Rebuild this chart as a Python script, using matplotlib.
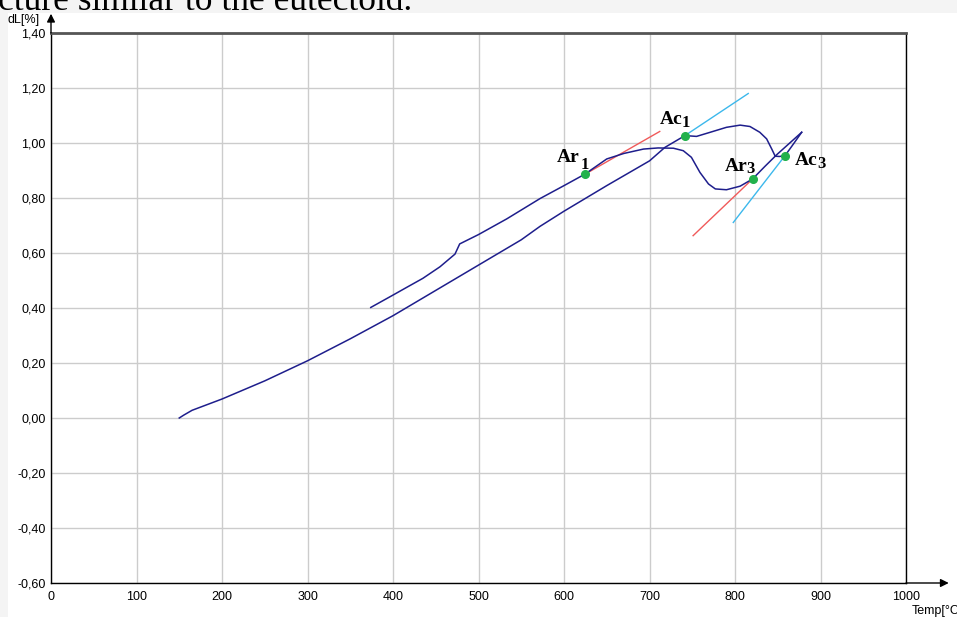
import matplotlib
matplotlib.use('Agg')
import matplotlib.pyplot as plt
from matplotlib.patches import Rectangle

# heating branch (Temp, dL)
heat_t = [150, 155, 165, 200, 250, 300, 350, 400, 450, 500, 550, 572, 600, 650,
          700, 718, 741.5, 755, 771, 790, 806, 817.5, 829, 837, 843, 847, 852, 858.5, 868, 878]
heat_dl = [0.000, 0.010, 0.028, 0.069, 0.135, 0.208, 0.288, 0.372, 0.464, 0.556, 0.648, 0.697, 0.752, 0.845,
           0.935, 0.984, 1.027, 1.024, 1.039, 1.057, 1.065, 1.060, 1.039, 1.015, 0.978, 0.952, 0.951, 0.954, 0.995, 1.039]

# cooling branch (Temp, dL)
cool_t = [878, 849, 835, 820.5, 806, 790, 777, 769, 759, 749, 739.5, 728, 710, 693,
          670, 650, 624.6, 600, 572, 533, 500, 478, 472.5, 455, 435, 416, 400, 374]
cool_dl = [1.039, 0.958, 0.915, 0.869, 0.843, 0.830, 0.833, 0.851, 0.893, 0.948, 0.972, 0.981, 0.982, 0.978,
           0.962, 0.942, 0.887, 0.845, 0.798, 0.724, 0.667, 0.633, 0.596, 0.550, 0.508, 0.475, 0.447, 0.402]

# transformation points
pt_names = ['Ar', 'Ac', 'Ar', 'Ac']
pt_subs = ['1', '1', '3', '3']
pt_t = [624.6, 741.5, 820.5, 858.5]
pt_dl = [0.887, 1.027, 0.869, 0.954]

# label positions (main text, subscript)
lab_t = [592, 712, 788, 870]
lab_dl = [0.931, 1.069, 0.899, 0.920]
sub_t = [620, 738, 813, 896]
sub_dl = [0.905, 1.057, 0.890, 0.908]

# tangent lines
tan_t = [[626, 712], [741.5, 815.5], [751, 820.5], [798, 858.5]]
tan_dl = [[0.889, 1.042], [1.027, 1.180], [0.663, 0.869], [0.711, 0.954]]
tan_col = ['#f05a5a', '#3cb8ec', '#f05a5a', '#3cb8ec']

x_ticks = list(range(0, 1001, 100))
y_ticks = [-0.6, -0.4, -0.2, 0.0, 0.2, 0.4, 0.6, 0.8, 1.0, 1.2, 1.4]

W, H = 957, 617
fig = plt.figure(figsize=(W / 100, H / 100), dpi=100)
fig.patch.set_facecolor('#f4f4f4')
fig.patches.append(Rectangle((8 / W, 0), 1, (H - 13) / H, transform=fig.transFigure,
                             facecolor='white', edgecolor='none', zorder=-5))

fig.text(-2 / W, 1 - 10 / H, 'cture similar to the eutectoid.', family='Liberation Serif',
         fontsize=25.5, va='baseline', ha='left', color='black', zorder=-4)

ax = fig.add_axes([51 / W, (H - 583) / H, 855 / W, 550 / H])
ax.set_xlim(0, 1000)
ax.set_ylim(-0.6, 1.4)
ax.set_facecolor('white')

tick_font = ['Liberation Sans Narrow', 'Liberation Sans']
ax.set_xticks(x_ticks)
ax.set_xticklabels([str(v) for v in x_ticks], family=tick_font, fontsize=9)
ax.set_yticks(y_ticks)
ax.set_yticklabels([f'{v:.2f}'.replace('.', ',') for v in y_ticks], family=tick_font, fontsize=9)
ax.tick_params(length=0, pad=4)
ax.tick_params(axis='x', pad=6)
ax.grid(True, color='#cccccc', lw=1)
ax.set_axisbelow(True)

for s in ['left', 'bottom', 'right']:
    ax.spines[s].set_color('black')
    ax.spines[s].set_linewidth(1)
ax.spines['top'].set_color('#555555')
ax.spines['top'].set_linewidth(2)

# axis arrows
ax.annotate('', xy=(1.05, 0), xytext=(1.0, 0), xycoords='axes fraction',
            arrowprops=dict(arrowstyle='-|>', color='black', lw=1, mutation_scale=12,
                            shrinkA=0, shrinkB=0), annotation_clip=False)
ax.annotate('', xy=(0, 1.035), xytext=(0, 1.0), xycoords='axes fraction',
            arrowprops=dict(arrowstyle='-|>', color='black', lw=1, mutation_scale=12,
                            shrinkA=0, shrinkB=0), annotation_clip=False)

fig.text(8 / W, 1 - 23 / H, 'dL[%]', family=tick_font, fontsize=9, va='baseline', ha='left')
fig.text(912 / W, 1 - 614 / H, 'Temp[°C]', family=tick_font, fontsize=9, va='baseline', ha='left')

ax.plot(heat_t, heat_dl, color='#1e1e8c', lw=1.1, zorder=3)
ax.plot(cool_t, cool_dl, color='#1e1e8c', lw=1.1, zorder=3)

for xs, ys, c in zip(tan_t, tan_dl, tan_col):
    ax.plot(xs, ys, color=c, lw=1, zorder=2)

ax.plot(pt_t, pt_dl, 'o', color='#22b14c', ms=5.5, zorder=4)

for name, sub, x, y, sx, sy in zip(pt_names, pt_subs, lab_t, lab_dl, sub_t, sub_dl):
    ax.text(x, y, name, family='Liberation Serif', fontweight='bold', fontsize=14,
            ha='left', va='baseline', zorder=5)
    ax.text(sx, sy, sub, family='Liberation Serif', fontweight='bold', fontsize=12,
            ha='left', va='baseline', zorder=5)

fig.savefig('out.png', dpi=100, facecolor=fig.get_facecolor())
